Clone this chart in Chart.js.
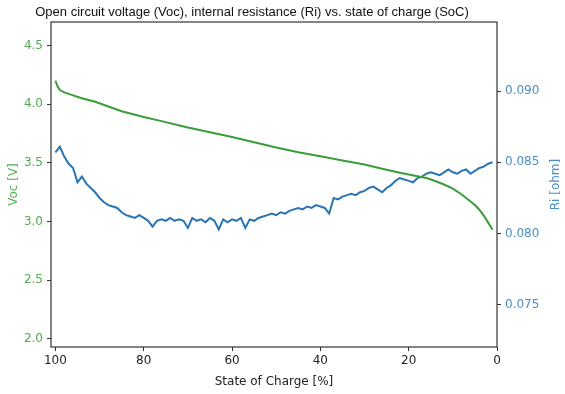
<!DOCTYPE html>
<html>
<head>
<meta charset="utf-8">
<script src="https://cdn.jsdelivr.net/npm/chart.js@4"></script>
<style>
  body { margin: 0; background: #fff; }
  #chart { display: block; }
</style>
</head>
<body>
<canvas id="chart" width="565" height="394"></canvas>
<script>
// State of charge for the Ri trace (%)
const riSoc = [100, 99, 98, 97, 96, 95, 94, 93, 92, 91, 90, 89, 88, 87, 86, 85, 84, 83, 82, 81,
  80, 79, 78, 77, 76, 75, 74, 73, 72, 71, 70, 69, 68, 67, 66, 65, 64, 63, 62, 61,
  60, 59, 58, 57, 56, 55, 54, 53, 52, 51, 50, 49, 48, 47, 46, 45, 44, 43, 42, 41,
  40, 39, 38, 37, 36, 35, 34, 33, 32, 31, 30, 29, 28, 27, 26, 25, 24, 23, 22, 21,
  20, 19, 18, 17, 16, 15, 14, 13, 12, 11, 10, 9, 8, 7, 6, 5, 4, 3, 2, 1];
// internal resistance [ohm]
const ri = [0.0857, 0.0861, 0.0854, 0.0849, 0.0846, 0.0836, 0.0840, 0.0835, 0.0832, 0.0829,
  0.0825, 0.0822, 0.0820, 0.0819, 0.0818, 0.0815, 0.0813, 0.0812, 0.0811, 0.0813,
  0.0811, 0.0809, 0.0805, 0.0809, 0.0810, 0.0809, 0.0811, 0.0809, 0.0810, 0.0809,
  0.0804, 0.0811, 0.0809, 0.0810, 0.0808, 0.0811, 0.0809, 0.0803, 0.0810, 0.0808,
  0.0810, 0.0809, 0.0811, 0.0804, 0.0810, 0.0809, 0.0811, 0.0812, 0.0813, 0.0814,
  0.0813, 0.0815, 0.0814, 0.0816, 0.0817, 0.0818, 0.0817, 0.0819, 0.0818, 0.0820,
  0.0819, 0.0818, 0.0814, 0.0825, 0.0824, 0.0826, 0.0827, 0.0828, 0.0827, 0.0829,
  0.0830, 0.0832, 0.0833, 0.0831, 0.0829, 0.0832, 0.0834, 0.0837, 0.0839, 0.0838,
  0.0837, 0.0836, 0.0839, 0.0840, 0.0842, 0.0843, 0.0842, 0.0841, 0.0843, 0.0845,
  0.0843, 0.0842, 0.0844, 0.0845, 0.0842, 0.0844, 0.0846, 0.0847, 0.0849, 0.0850];

// State of charge for the Voc trace (%)
const vocSoc = [100, 99.5, 99, 98, 96, 94, 91, 88, 85, 80, 76, 70, 65, 60, 55, 50, 45, 40, 35,
  30, 26, 22, 18, 16, 14, 12, 10, 8, 6, 5, 4, 3, 2, 1];
// open circuit voltage [V]
const voc = [4.20, 4.15, 4.12, 4.10, 4.075, 4.05, 4.02, 3.98, 3.94, 3.89, 3.855, 3.80, 3.76,
  3.72, 3.675, 3.63, 3.59, 3.555, 3.52, 3.485, 3.45, 3.415, 3.385, 3.37, 3.345, 3.315,
  3.28, 3.23, 3.17, 3.14, 3.10, 3.05, 2.99, 2.93];

const xTicks = [0, 20, 40, 60, 80, 100];
const vocTicks = [2.0, 2.5, 3.0, 3.5, 4.0, 4.5];
const riTicks = [0.075, 0.080, 0.085, 0.090];

const titleText = 'Open circuit voltage (Voc), internal resistance (Ri) vs. state of charge (SoC)';
const xLabel = 'State of Charge [%]';
const vocLabel = 'Voc [V]';
const riLabel = 'Ri [ohm]';

const green = '#3a9d3a';
const greenText = '#4fae4f';
const blue = '#2a74b3';
const blueText = '#4d8ec2';
const tickFont = { family: 'DejaVu Sans', size: 12 };

function fixTicks(list) {
  return function (axis) {
    axis.ticks = list.map(v => ({ value: v }));
  };
}

// spines, title and axis labels
const decorations = {
  id: 'decorations',
  afterDraw(chart) {
    const ctx = chart.ctx;
    const a = chart.chartArea;
    ctx.save();
    ctx.strokeStyle = '#333';
    ctx.lineWidth = 1.2;
    ctx.strokeRect(a.left, a.top, a.right - a.left, a.bottom - a.top);

    ctx.fillStyle = '#111';
    ctx.textAlign = 'center';
    ctx.textBaseline = 'middle';
    ctx.font = '13px "Liberation Sans", Arial, sans-serif';
    ctx.fillText(titleText, 252, 12);

    ctx.font = '12px "DejaVu Sans"';
    ctx.fillStyle = '#222';
    ctx.fillText(xLabel, (a.left + a.right) / 2, 382);

    const midY = (a.top + a.bottom) / 2;
    ctx.fillStyle = greenText;
    ctx.translate(14, midY);
    ctx.rotate(-Math.PI / 2);
    ctx.fillText(vocLabel, 0, 0);
    ctx.restore();

    ctx.save();
    ctx.font = '12px "DejaVu Sans"';
    ctx.fillStyle = blueText;
    ctx.textAlign = 'center';
    ctx.textBaseline = 'middle';
    ctx.translate(556, midY);
    ctx.rotate(-Math.PI / 2);
    ctx.fillText(riLabel, 0, 0);
    ctx.restore();
  }
};

const ctx = document.getElementById('chart').getContext('2d');
new Chart(ctx, {
  type: 'line',
  data: {
    datasets: [
      {
        label: 'Voc',
        data: vocSoc.map((s, i) => ({ x: s, y: voc[i] })),
        borderColor: green,
        borderWidth: 2,
        pointRadius: 0,
        tension: 0,
        yAxisID: 'yVoc'
      },
      {
        label: 'Ri',
        data: riSoc.map((s, i) => ({ x: s, y: ri[i] })),
        borderColor: blue,
        borderWidth: 2,
        pointRadius: 0,
        tension: 0,
        yAxisID: 'yRi'
      }
    ]
  },
  options: {
    responsive: false,
    animation: false,
    layout: { padding: { top: 22, left: 0, right: 0, bottom: 0 } },
    plugins: { legend: { display: false }, tooltip: { enabled: false } },
    scales: {
      x: {
        type: 'linear',
        reverse: true,
        min: 0,
        max: 101,
        afterBuildTicks: fixTicks(xTicks),
        afterFit(axis) { axis.height = 47; },
        grid: { display: true, drawOnChartArea: false, tickLength: 4, color: '#333' },
        border: { display: false },
        ticks: { color: '#222', font: tickFont, padding: 3, maxRotation: 0 }
      },
      yVoc: {
        position: 'left',
        min: 1.93,
        max: 4.70,
        afterBuildTicks: fixTicks(vocTicks),
        afterFit(axis) { axis.width = 51; },
        grid: { display: true, drawOnChartArea: false, tickLength: 4, color: '#333' },
        border: { display: false },
        ticks: { color: greenText, font: tickFont, padding: 4, callback: v => v.toFixed(1) }
      },
      yRi: {
        position: 'right',
        min: 0.07205,
        max: 0.09484,
        afterBuildTicks: fixTicks(riTicks),
        afterFit(axis) { axis.width = 68; },
        grid: { display: true, drawOnChartArea: false, tickLength: 4, color: '#333' },
        border: { display: false },
        ticks: { color: blueText, font: tickFont, padding: 4, callback: v => v.toFixed(3) }
      }
    }
  },
  plugins: [decorations]
});
</script>
</body>
</html>
